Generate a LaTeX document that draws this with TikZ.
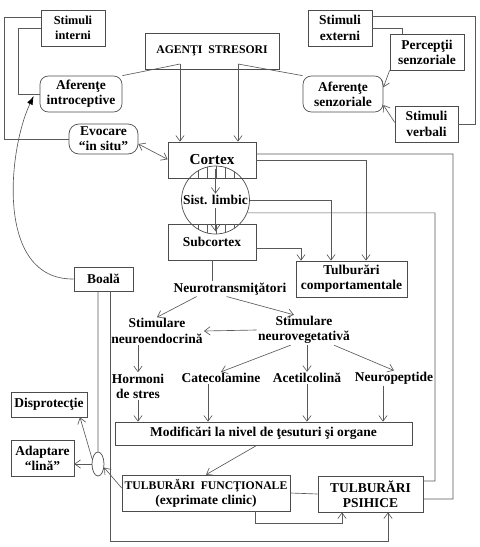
\documentclass[tikz,border=0pt]{standalone}
\usepackage{fontspec}
\setmainfont{Liberation Serif}
\usepackage{tikz}
\usetikzlibrary{arrows.meta, shapes.geometric, calc}

\begin{document}
\begin{tikzpicture}[
        x=0.03cm, y=-0.03cm,
        every node/.style={font=\fontsize{11.5}{13}\selectfont\bfseries, text=black},
        block/.style={rectangle, draw=black!70, line width=0.6pt, align=center, inner sep=1pt},
        rblock/.style={block, rounded corners=2.5mm},
        txt/.style={align=center, inner sep=1pt},
        link/.style={draw=black!65, line width=0.55pt},
        arrow/.style={link, -{Straight Barb[length=1.7mm, width=2.5mm]}}
    ]
        \useasboundingbox (0,0) rectangle (480,547);

        % top row
        \node[block, minimum width=1.92cm, minimum height=1.08cm, font=\fontsize{10.5}{12.5}\selectfont\bfseries] (sint) at (73,28) {Stimuli\\interni};
        \node[block, minimum width=4.02cm, minimum height=1.08cm, font=\fontsize{10}{12}\selectfont\bfseries] (agenti) at (212,51) {AGENŢI\enspace STRESORI};
        \node[block, minimum width=1.92cm, minimum height=1.08cm] (sext) at (340,28) {Stimuli\\externi};
        \node[block, minimum width=2.22cm, minimum height=1.08cm] (perc) at (427,52) {Percepţii\\senzoriale};
        \node[rblock, minimum width=2.46cm, minimum height=1.08cm] (aferI) at (81,94) {Aferenţe\\introceptive};
        \node[rblock, minimum width=2.4cm, minimum height=1.08cm] (aferS) at (343,94) {Aferenţe\\senzoriale};
        \node[block, minimum width=1.89cm, minimum height=1.08cm] (sverb) at (426.5,124) {Stimuli\\verbali};
        \node[rblock, rounded corners=3mm, minimum width=2.07cm, minimum height=0.9cm] (evoc) at (103.5,139) {Evocare\\“in situ”};

        % brain
        \node[block, minimum width=2.64cm, minimum height=1.08cm, font=\fontsize{13}{15}\selectfont\bfseries] (cortex) at (212,160) {Cortex};
        \node[circle, draw=black!70, line width=0.6pt, minimum size=2.04cm, inner sep=0pt] (limbic) at (215.5,200) {Sist. limbic};
        \node[block, minimum width=2.64cm, minimum height=1.08cm] (subcortex) at (212,242) {Subcortex};
        \begin{scope}
            \clip (limbic.center) circle (1.02cm);
            \foreach \x in {189,198,...,243} {
                \draw[link] (\x,150) -- (\x,178);
                \draw[link] (\x,224) -- (\x,250);
            }
        \end{scope}

        \node[block, minimum width=3.33cm, minimum height=1.08cm] (tcomp) at (351.5,279) {Tulburări\\comportamentale};
        \node[block, minimum width=1.77cm, minimum height=0.72cm] (boala) at (103.5,279) {Boală};

        % middle
        \node[txt] (neurot) at (230,289) {Neurotransmiţători};
        \node[txt] (sendo) at (157,331) {Stimulare\\neuroendocrină};
        \node[txt] (sveg) at (304,330) {Stimulare\\neurovegetativă};
        \node[txt] (hormoni) at (138,386) {Hormoni\\de stres};
        \node[txt] (catecol) at (221,378) {Catecolamine};
        \node[txt] (acetil) at (307,378) {Acetilcolină};
        \node[txt] (neuropep) at (394,378) {Neuropeptide};
        \node[block, minimum width=8.91cm, minimum height=0.69cm] (modif) at (263.5,433.5) {Modificări la nivel de ţesuturi şi organe};

        % bottom
        \node[block, minimum width=2.28cm, minimum height=0.75cm] (disprot) at (49,404.5) {Disprotecţie};
        \node[block, minimum width=1.89cm, minimum height=1.08cm] (adapt) at (42.5,458) {Adaptare\\“lină”};
        \node[ellipse, draw=black!70, line width=0.6pt, minimum width=0.36cm, minimum height=0.72cm, inner sep=0pt] (ell) at (98,464) {};
        \node[block, minimum width=5.04cm, minimum height=1.08cm] (tfunc) at (206,493) {{\fontsize{10}{12}\selectfont TULBURĂRI\enspace FUNCŢIONALE}\\(exprimate clinic)};
        \node[block, minimum width=3.15cm, minimum height=1.08cm] (tpsih) at (370.5,494) {TULBURĂRI\\PSIHICE};

        \coordinate (jl) at (180,64);
        \coordinate (jr) at (238,64);
        \coordinate (rl) at (435,481);
        \coordinate (rr) at (453,499);

        % inputs
        \draw[link] (sint.west) -- ++(-22,0) |- (aferI.west);
        \draw[link] ([yshift=3.3mm]sint.west) -- ++(-36,0) |- (evoc.west);
        \draw[link] (sext.east) -| ([xshift=-7.5mm]perc.north);
        \draw[link] ([yshift=3.6mm]sext.east) -- ++(103,0) |- (sverb.east);
        \draw[arrow] (perc.south west) -- ([yshift=2mm]aferS.east);
        \draw[arrow] ([yshift=0.5mm]sverb.west) -- ([yshift=-3.3mm]aferS.east);
        \draw[link] (aferI.north east) -- (jl);
        \draw[link] (aferS.north west) -- (jr);
        \draw[arrow] (jl) -- (jl |- cortex.north);
        \draw[arrow] (jr) -- (jr |- cortex.north);
        \draw[arrow, {Straight Barb[length=1.7mm, width=2.5mm]}-{Straight Barb[length=1.7mm, width=2.5mm]}] ([yshift=-1.5mm]evoc.east) -- ([yshift=0.2mm]cortex.west);

        % brain outputs
        \draw[arrow] ($(limbic.north)+(0,3)$) -- ++(0,25);
        \draw[arrow] ($(limbic.center)+(0,8)$) -- ($(limbic.south)+(0,-3)$);
        \draw[link] ([yshift=1.8mm]cortex.east) -| (rr) -- ([yshift=-1.5mm]tpsih.east);
        \draw[link] (limbic.-22) -| (rl) -- ([yshift=3.9mm]tpsih.east);
        \draw[arrow] (cortex.east) -| ([xshift=4.35mm]tcomp.north);
        \draw[arrow] (limbic.east) -| ([xshift=-6.15mm]tcomp.north);
        \draw[arrow] ([yshift=-1.8mm]subcortex.east) -| ([xshift=-15.15mm]tcomp.north);

        % neuro chain
        \draw[link] (subcortex.south) -- (subcortex.south |- neurot.north);
        \draw[arrow] ([xshift=-1cm]neurot.south) -- (sendo.north);
        \draw[arrow] ([xshift=-1mm]neurot.south) -- ([xshift=-3mm]sveg.north);
        \draw[arrow] (sveg.west) -- (sendo.east);
        \draw[arrow] (hormoni.north |- sendo.south) -- (hormoni.north);
        \draw[arrow] ([xshift=-4mm]sveg.south) -- (catecol.north);
        \draw[arrow] (acetil.north |- sveg.south) -- (acetil.north);
        \draw[arrow] ([xshift=9mm]sveg.south) -- (neuropep.north);
        \draw[arrow] (hormoni.south) -- (hormoni.south |- modif.north);
        \draw[arrow] ([xshift=-3.9mm]catecol.south) coordinate (c1) -- (c1 |- modif.north);
        \draw[arrow] (acetil.south) -- (acetil.south |- modif.north);
        \draw[arrow] ([xshift=-3.3mm]neuropep.south) coordinate (c2) -- (c2 |- modif.north);
        \draw[arrow] ([xshift=-2mm]modif.south) -- (tfunc.north);

        % disorders
        \draw[link] (tfunc.east) -- (tpsih.west);
        \draw[arrow] ([xshift=1.47cm]tfunc.south) -- ++(0,12) -| ([xshift=-8.55mm]tpsih.south);
        \draw[arrow] ([xshift=1.95mm]boala.south) -- ++(0,250) -| ([xshift=5.25mm]tpsih.south);
        \draw[link] ([xshift=-1.65mm]boala.south) -- (ell.north);
        \draw[arrow] (ell.140) -- ([xshift=9.3mm]disprot.south);
        \draw[arrow] (ell.west) -- (ell.west -| adapt.east);
        \draw[arrow] ([yshift=1.5mm]tfunc.west) -- (ell.-30);
        \draw[link, -{Latex[length=2.6mm, width=1.8mm, black]}] (boala.west) .. controls (-5,280) and (8,150) .. ([xshift=-1.8mm, yshift=-0.6mm]aferI.west);
    \end{tikzpicture}
\end{document}
